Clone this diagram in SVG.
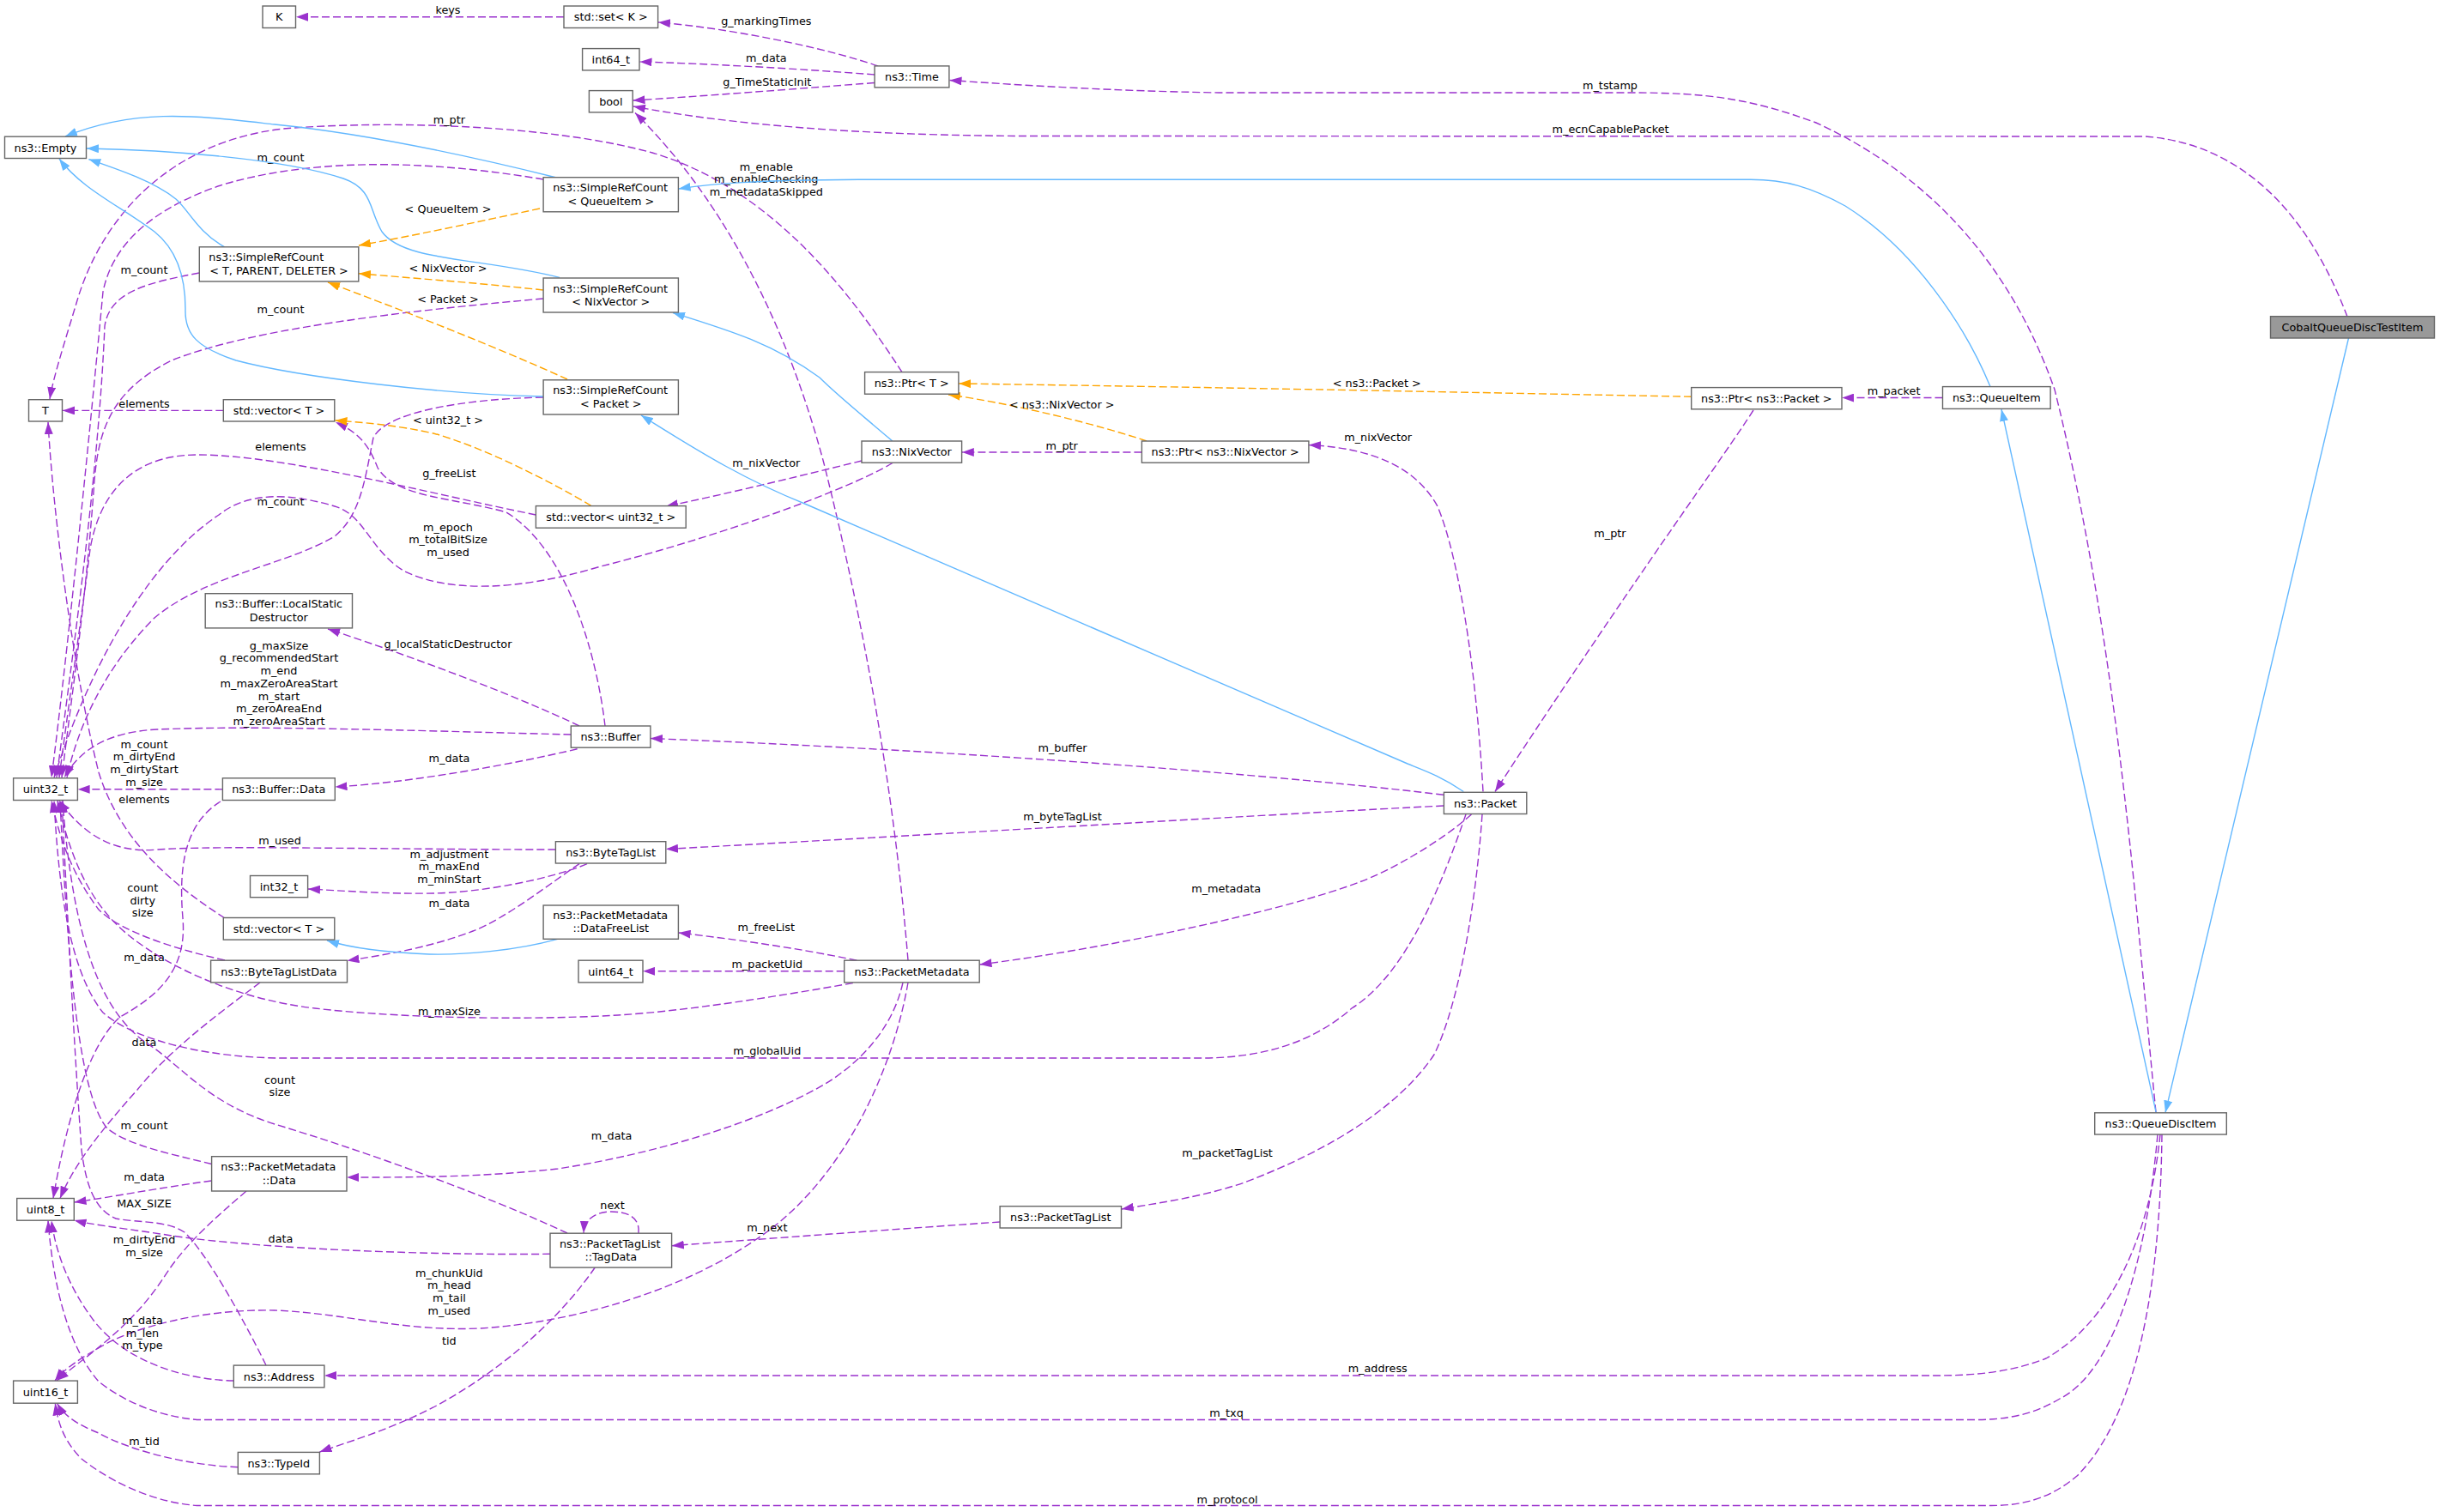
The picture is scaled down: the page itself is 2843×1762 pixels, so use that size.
<svg xmlns="http://www.w3.org/2000/svg" width="2843" height="1762" viewBox="0 0 2843 1762">
<style>
text{font-family:"DejaVu Sans","Liberation Sans",sans-serif;font-size:12.8px;fill:#000}
.n rect{fill:#fff;stroke:#666;stroke-width:1.4}
.root rect{fill:#999;stroke:#666;stroke-width:1.4}
.n text,.root text{text-anchor:middle}
.n text.l{text-anchor:start}
#edges path{fill:none;stroke-width:1.4}
#edges .p{stroke:#9a32cd;stroke-dasharray:9,4;marker-end:url(#ap)}
#edges .b{stroke:#63b8ff;marker-end:url(#ab)}
#edges .o{stroke:#ffa500;stroke-dasharray:9,4;marker-end:url(#ao)}
#edges text{text-anchor:middle}
</style>
<defs>
<marker id="ap" viewBox="0 0 14 10" markerWidth="14" markerHeight="10" refX="14" refY="5" orient="auto" markerUnits="userSpaceOnUse"><path d="M0,0 L14,5 L0,10 z" fill="#9a32cd"/></marker>
<marker id="ab" viewBox="0 0 14 10" markerWidth="14" markerHeight="10" refX="14" refY="5" orient="auto" markerUnits="userSpaceOnUse"><path d="M0,0 L14,5 L0,10 z" fill="#63b8ff"/></marker>
<marker id="ao" viewBox="0 0 14 10" markerWidth="14" markerHeight="10" refX="14" refY="5" orient="auto" markerUnits="userSpaceOnUse"><path d="M0,0 L14,5 L0,10 z" fill="#ffa500"/></marker>
</defs>
<rect width="2843" height="1762" fill="#fff"/>
<g id="edges">
<path class="p" d="M657,19.7 L345,19.7"/>
<text x="522" y="16">keys</text>
<path class="p" d="M1023,77 C960,55 850,33 767,26"/>
<text x="892.8" y="29">g_markingTimes</text>
<path class="p" d="M1019,87 C930,80 820,74 745.5,72"/>
<text x="892.8" y="72.2">m_data</text>
<path class="p" d="M1019,96.5 C920,104 820,112 737.5,117"/>
<text x="893.8" y="100.2">g_TimeStaticInit</text>
<path class="p" d="M2512,1296 C2490,1080 2470,760 2394,454 C2340,300 2240,200 2116,143 C2040,115 1990,108 1900,108 L1420,108 C1300,106 1200,100 1106.5,93.5"/>
<text x="1876" y="104">m_tstamp</text>
<path class="p" d="M2735,369 C2705,290 2640,170 2500,159 L1200,158.5 C1000,158 850,145 738,124"/>
<text x="1876.6" y="155">m_ecnCapablePacket</text>
<path class="p" d="M1051,433.6 C990,340 900,220 760,178 C640,145 450,140 330,150 C200,165 120,250 90,350 C75,400 62,440 58,465"/>
<text x="523.4" y="144.2">m_ptr</text>
<path class="p" d="M1058,1119 C1040,900 1000,700 960,540 C920,390 850,240 740,131.5"/>
<text x="892.8" y="198.9">m_enable<tspan x="892.8" dy="14.4">m_enableChecking</tspan><tspan x="892.8" dy="14.4">m_metadataSkipped</tspan></text>
<path class="p" d="M633,209 C520,190 380,180 260,215 C170,245 130,290 120,340 C105,500 80,750 60,906"/>
<text x="327" y="188.2">m_count</text>
<path class="p" d="M232.3,318 C170,330 128,340 122,380 C115,550 85,760 66,906"/>
<text x="168" y="319.1">m_count</text>
<path class="p" d="M633,348 C500,360 300,380 200,420 C130,455 115,500 110,560 C100,700 85,800 72,906"/>
<text x="327" y="365">m_count</text>
<path class="p" d="M633,463 C540,465 450,480 435,510 C425,560 420,600 390,625 C330,660 240,670 180,720 C120,780 90,850 78,906"/>
<text x="327" y="589.1">m_count</text>
<path class="p" d="M260.3,478.4 L73,478.4"/>
<text x="168" y="475.2">elements</text>
<path class="p" d="M624.4,600 C500,575 330,530 230,530 C150,530 115,580 105,640 C95,720 80,820 69,906"/>
<text x="327" y="525">elements</text>
<path class="p" d="M1004,537 C930,555 850,575 776,590"/>
<text x="892.8" y="544.1">m_nixVector</text>
<path class="p" d="M1040,539.5 C980,575 820,630 700,660 C600,690 520,690 470,665 C430,640 425,600 390,590 C340,575 290,572 255,600 C180,650 110,760 63,906"/>
<text x="522" y="618.9">m_epoch<tspan x="522" dy="14.4">m_totalBitSize</tspan><tspan x="522" dy="14.4">m_used</tspan></text>
<path class="p" d="M675,846 C600,810 480,765 382,733"/>
<text x="522" y="754.8">g_localStaticDestructor</text>
<path class="p" d="M665.3,856 C500,852 300,845 183,850 C130,853 95,870 75,906"/>
<text x="325" y="756.7">g_maxSize<tspan x="325" dy="14.7">g_recommendedStart</tspan><tspan x="325" dy="14.7">m_end</tspan><tspan x="325" dy="14.7">m_maxZeroAreaStart</tspan><tspan x="325" dy="14.7">m_start</tspan><tspan x="325" dy="14.7">m_zeroAreaEnd</tspan><tspan x="325" dy="14.7">m_zeroAreaStart</tspan></text>
<path class="p" d="M705,846 C695,760 660,640 590,597 C530,580 460,580 440,545 C430,520 420,505 391,492"/>
<text x="523.4" y="555.6">g_freeList</text>
<path class="p" d="M672.6,872.8 C600,890 480,912 390.5,917"/>
<text x="523.4" y="888">m_data</text>
<path class="p" d="M259.4,919.8 L90.6,919.8"/>
<text x="168" y="871.5">m_count<tspan x="168" dy="14.8">m_dirtyEnd</tspan><tspan x="168" dy="14.8">m_dirtyStart</tspan><tspan x="168" dy="14.8">m_size</tspan></text>
<path class="p" d="M262,1070 C200,1030 140,980 115,900 C85,780 62,600 56,492"/>
<text x="168" y="935.8">elements</text>
<path class="p" d="M647.4,990 C450,990 250,985 183.7,990 C130,995 95,970 69,933"/>
<text x="326" y="983.7">m_used</text>
<path class="p" d="M684,1006.7 C640,1025 560,1040 505,1041 C450,1042 400,1038 359,1036"/>
<text x="523.4" y="999.7">m_adjustment<tspan x="523.4" dy="14.6">m_maxEnd</tspan><tspan x="523.4" dy="14.6">m_minStart</tspan></text>
<path class="p" d="M675,1006.7 C640,1030 590,1070 551,1085 C500,1105 440,1114 404.5,1119.5"/>
<text x="523.4" y="1057.1">m_data</text>
<path class="p" d="M262,1119 C200,1105 140,1085 115,1060 C85,1020 70,980 60,933"/>
<text x="166.2" y="1039.1">count<tspan x="166.2" dy="14.4">dirty</tspan><tspan x="166.2" dy="14.4">size</tspan></text>
<path class="p" d="M257,934 C215,960 208,1010 213,1070 C218,1130 185,1160 140,1185 C100,1220 75,1320 62,1396.5"/>
<text x="168" y="1120.3">m_data</text>
<path class="p" d="M303,1145 C270,1170 200,1220 160,1270 C115,1320 85,1360 70,1396.5"/>
<text x="168" y="1219">data</text>
<path class="p" d="M998.4,1119.2 C930,1105 860,1095 790.6,1087"/>
<text x="892.8" y="1084.7">m_freeList</text>
<path class="p" d="M983.7,1131.8 L749.2,1131.8"/>
<text x="893.8" y="1127.9">m_packetUid</text>
<path class="p" d="M993.8,1145.6 C900,1162 800,1178 720,1183 C600,1190 450,1185 367,1175 C280,1165 200,1130 150,1090 C100,1050 80,990 67,933"/>
<text x="523.4" y="1182.9">m_maxSize</text>
<path class="p" d="M1708,949 C1670,1060 1630,1140 1575,1175 C1530,1215 1470,1233 1400,1233 L330,1233 C250,1233 160,1215 120,1180 C80,1130 68,1030 63,933"/>
<text x="893.8" y="1229">m_globalUid</text>
<path class="p" d="M1727,949 C1720,1050 1700,1170 1671,1229 C1630,1290 1550,1340 1450,1378 C1400,1395 1350,1402 1306.8,1409"/>
<text x="1430" y="1347.5">m_packetTagList</text>
<path class="p" d="M1714.5,949 C1680,980 1620,1015 1583.7,1028 C1500,1060 1300,1104 1141.5,1124"/>
<text x="1428.7" y="1039.8">m_metadata</text>
<path class="p" d="M1682,926.3 C1550,910 1200,878 758,860.5"/>
<text x="1238" y="876.1">m_buffer</text>
<path class="p" d="M1682,939 C1500,948 1100,972 776,989.5"/>
<text x="1238" y="955.7">m_byteTagList</text>
<path class="p" d="M1728,922.5 C1720,780 1700,650 1675,590 C1650,545 1600,522 1525,518.6"/>
<text x="1605.7" y="513.5">m_nixVector</text>
<path class="p" d="M2043,478 C2010,530 1900,680 1742,922.5"/>
<text x="1876" y="625.5">m_ptr</text>
<path class="p" d="M2263.5,463.5 L2146.3,463.5"/>
<text x="2206.6" y="460.2">m_packet</text>
<path class="p" d="M1330.4,527 L1120.8,527"/>
<text x="1237.2" y="523.8">m_ptr</text>
<path class="p" d="M1052,1145 C1040,1200 1000,1240 960,1264 C880,1310 760,1345 650,1362 C560,1372 480,1372 404.2,1372"/>
<text x="712.6" y="1328">m_data</text>
<path class="p" d="M1058,1145 C1040,1250 980,1380 880,1445 C800,1500 680,1540 560,1548 C470,1552 400,1530 320,1527 C230,1525 150,1550 120,1568 C95,1582 75,1595 64,1609"/>
<text x="523.4" y="1487.7">m_chunkUid<tspan x="523.4" dy="14.7">m_head</tspan><tspan x="523.4" dy="14.7">m_tail</tspan><tspan x="523.4" dy="14.7">m_used</tspan></text>
<path class="p" d="M1165,1424 C1050,1432 900,1443 782.8,1451.7"/>
<text x="893.8" y="1435.1">m_next</text>
<path class="p" d="M744,1437 C746,1418 730,1412 712,1412 C695,1412 681,1420 680,1437"/>
<text x="713.5" y="1409">next</text>
<path class="p" d="M661,1437 C560,1390 420,1340 320,1310 C240,1285 210,1240 170,1215 C120,1180 85,1100 73,933"/>
<text x="326" y="1263.2">count<tspan x="326" dy="14.2">size</tspan></text>
<path class="p" d="M641,1461.3 C500,1463 300,1455 200,1440 C150,1432 110,1428 86.5,1422"/>
<text x="327" y="1447.5">data</text>
<path class="p" d="M693.3,1477 C650,1540 580,1600 505,1640 C450,1668 400,1682 372.5,1692"/>
<text x="523.4" y="1566.8">tid</text>
<path class="p" d="M246.6,1356.5 C200,1345 150,1335 125,1315 C95,1280 80,1150 70,933"/>
<text x="168" y="1316.1">m_count</text>
<path class="p" d="M246.6,1376 C180,1385 130,1395 86.5,1401"/>
<text x="168" y="1376">m_data</text>
<path class="p" d="M287,1388 C250,1420 215,1450 190,1490 C150,1550 100,1580 66,1609"/>
<text x="168" y="1449.3">m_dirtyEnd<tspan x="168" dy="14.6">m_size</tspan></text>
<path class="p" d="M272.3,1609 C220,1608 150,1590 110,1540 C80,1500 65,1460 60,1422.5"/>
<text x="166" y="1543">m_data<tspan x="166" dy="14.6">m_len</tspan><tspan x="166" dy="14.6">m_type</tspan></text>
<path class="p" d="M310,1591 C280,1530 240,1460 215,1436 C195,1422 160,1425 135,1420 C110,1410 100,1380 95,1340 C85,1200 78,1050 72,933"/>
<text x="168" y="1407.1">MAX_SIZE</text>
<path class="p" d="M277.3,1709.7 C220,1708 150,1690 115,1670 C90,1660 75,1650 66.6,1635.5"/>
<text x="168" y="1683.5">m_tid</text>
<path class="p" d="M2517,1322 C2505,1440 2460,1540 2384,1583 C2340,1600 2300,1603 2250,1603 L378,1603"/>
<text x="1605.2" y="1598.7">m_address</text>
<path class="p" d="M2514,1322 C2500,1480 2460,1600 2400,1630 C2370,1648 2340,1654.5 2300,1654.5 L229.6,1654.5 C180,1650 140,1630 115,1610 C80,1570 62,1500 56,1422.5"/>
<text x="1429" y="1651.3">m_txq</text>
<path class="p" d="M2519,1322 C2517,1500 2490,1650 2420,1720 C2390,1745 2360,1754.5 2320,1754.5 L229.6,1754.5 C170,1750 120,1720 95,1700 C75,1680 68,1660 64.3,1635.5"/>
<text x="1430" y="1751.5">m_protocol</text>
<path class="b" d="M647.4,206.7 C540,180 420,155 320,145 C230,135 160,125 76,159"/>
<path class="b" d="M652,323.4 C560,300 470,305 445,270 C430,245 435,220 400,208 C330,185 200,175 101,173"/>
<path class="b" d="M261.7,287.8 C230,270 220,245 205,232 C180,212 140,198 103.3,185.6"/>
<path class="b" d="M633,462 C520,460 350,440 275,420 C230,405 215,390 216,360 C216,320 205,290 180,270 C140,240 95,220 69,185"/>
<path class="b" d="M2319,450.6 C2290,380 2230,290 2150,240 C2110,218 2080,209.3 2040,209.3 L1000,209.3 C880,210 830,214 790.6,220"/>
<path class="b" d="M1039.8,514 C1000,480 975,460 955,440 C900,400 850,385 784,364.5"/>
<path class="b" d="M1705.3,922.5 C1680,905 1660,898 1640,890 L940,588 C870,560 820,530 747,484"/>
<path class="b" d="M2736.5,394 L2523,1296.5"/>
<path class="b" d="M2512.3,1296.8 L2332,477"/>
<path class="b" d="M649.7,1094.3 C600,1108 540,1113 500,1112 C450,1110 410,1105 381,1096"/>
<path class="o" d="M629,243 C550,260 480,275 418,286"/>
<text x="522" y="247.9">&lt; QueueItem &gt;</text>
<path class="o" d="M633,338 C560,330 480,324 418,318.8"/>
<text x="522" y="317.2">&lt; NixVector &gt;</text>
<path class="o" d="M661,442 C580,405 470,362 382,329"/>
<text x="522" y="352.8">&lt; Packet &gt;</text>
<path class="o" d="M688.7,589.4 C640,560 560,520 505,505 C460,495 420,492 390.5,490"/>
<text x="522" y="494.4">&lt; uint32_t &gt;</text>
<path class="o" d="M1970.7,462.3 C1750,458 1400,451 1117.2,447"/>
<text x="1604.3" y="451.1">&lt; ns3::Packet &gt;</text>
<path class="o" d="M1336,514 C1280,495 1180,470 1105,460"/>
<text x="1237.2" y="476">&lt; ns3::NixVector &gt;</text>
</g>
<g id="n_K" class="n"><rect x="306" y="7" width="38.5" height="25.5"/><text x="325.2" y="24.4">K</text></g>
<g id="n_set" class="n"><rect x="657" y="7" width="109.6" height="25.5"/><text x="711.8" y="24.4">std::set&lt; K &gt;</text></g>
<g id="n_int64" class="n"><rect x="678.6" y="56.6" width="66.4" height="25.3"/><text x="711.8" y="73.9">int64_t</text></g>
<g id="n_bool" class="n"><rect x="686.4" y="105.6" width="50.8" height="25.3"/><text x="711.8" y="122.9">bool</text></g>
<g id="n_time" class="n"><rect x="1019.1" y="76.9" width="86.8" height="25"/><text x="1062.5" y="94">ns3::Time</text></g>
<g id="n_empty" class="n"><rect x="5.5" y="159.2" width="95" height="25.3"/><text x="53" y="176.5">ns3::Empty</text></g>
<g id="n_src_qi" class="n"><rect x="633.1" y="206.7" width="157.3" height="40.1"/><text class="l" x="644.2" y="223.2">ns3::SimpleRefCount</text><text x="711.8" y="238.5">&lt; QueueItem &gt;</text></g>
<g id="n_src_tpd" class="n"><rect x="232.3" y="287.8" width="185.5" height="40.2"/><text class="l" x="243.3" y="304.3">ns3::SimpleRefCount</text><text x="325" y="319.6">&lt; T, PARENT, DELETER &gt;</text></g>
<g id="n_src_nv" class="n"><rect x="633.1" y="324" width="157.3" height="40"/><text class="l" x="644.2" y="340.5">ns3::SimpleRefCount</text><text x="711.8" y="355.8">&lt; NixVector &gt;</text></g>
<g id="n_src_pkt" class="n"><rect x="633.1" y="442.8" width="157.3" height="40.2"/><text class="l" x="644.2" y="459.3">ns3::SimpleRefCount</text><text x="711.8" y="474.6">&lt; Packet &gt;</text></g>
<g id="n_T" class="n"><rect x="33.5" y="465.7" width="39" height="25.3"/><text x="53" y="483">T</text></g>
<g id="n_vecT1" class="n"><rect x="260.3" y="465.7" width="129.5" height="25.3"/><text x="325" y="483">std::vector&lt; T &gt;</text></g>
<g id="n_ptrT" class="n"><rect x="1007.6" y="433.6" width="109.3" height="25.6"/><text x="1062.2" y="451">ns3::Ptr&lt; T &gt;</text></g>
<g id="n_nixvec" class="n"><rect x="1004" y="514" width="116.6" height="25.2"/><text x="1062.3" y="531.2">ns3::NixVector</text></g>
<g id="n_ptrnv" class="n"><rect x="1330.4" y="514" width="194.5" height="25.2"/><text x="1427.6" y="531.2">ns3::Ptr&lt; ns3::NixVector &gt;</text></g>
<g id="n_ptrpkt" class="n"><rect x="1970.7" y="451.6" width="175.3" height="25.2"/><text x="2058.3" y="468.8">ns3::Ptr&lt; ns3::Packet &gt;</text></g>
<g id="n_queueitem" class="n"><rect x="2263.5" y="450.6" width="125.6" height="25.8"/><text x="2326.3" y="468.1">ns3::QueueItem</text></g>
<g id="n_cobalt" class="root"><rect x="2645.5" y="368.7" width="191" height="25.3"/><text x="2741" y="386">CobaltQueueDiscTestItem</text></g>
<g id="n_vecu32" class="n"><rect x="624.4" y="589.6" width="174.8" height="25.6"/><text x="711.8" y="607">std::vector&lt; uint32_t &gt;</text></g>
<g id="n_lsd" class="n"><rect x="239.2" y="691.7" width="171.3" height="40.2"/><text x="324.8" y="708.2">ns3::Buffer::LocalStatic</text><text x="324.8" y="723.5">Destructor</text></g>
<g id="n_buffer" class="n"><rect x="665.3" y="846" width="92.6" height="25.2"/><text x="711.6" y="863.2">ns3::Buffer</text></g>
<g id="n_uint32" class="n"><rect x="15.6" y="906.8" width="74.8" height="25.7"/><text x="53" y="924.2">uint32_t</text></g>
<g id="n_bufdata" class="n"><rect x="259.4" y="906.8" width="130.9" height="25.7"/><text x="324.8" y="924.2">ns3::Buffer::Data</text></g>
<g id="n_btl" class="n"><rect x="647.4" y="980.7" width="128.4" height="25.3"/><text x="711.6" y="998">ns3::ByteTagList</text></g>
<g id="n_int32" class="n"><rect x="291.5" y="1020.5" width="67.1" height="25.2"/><text x="325" y="1037.7">int32_t</text></g>
<g id="n_vecT2" class="n"><rect x="260.3" y="1069.5" width="129.5" height="25.6"/><text x="325" y="1086.9">std::vector&lt; T &gt;</text></g>
<g id="n_dfl" class="n"><rect x="633.1" y="1055" width="157.3" height="39.3"/><text class="l" x="644.2" y="1071.3">ns3::PacketMetadata</text><text x="711.8" y="1086.4">::DataFreeList</text></g>
<g id="n_btld" class="n"><rect x="245.6" y="1119.2" width="158.9" height="25.7"/><text x="325" y="1136.6">ns3::ByteTagListData</text></g>
<g id="n_uint64" class="n"><rect x="674" y="1119.2" width="75" height="25.7"/><text x="711.5" y="1136.6">uint64_t</text></g>
<g id="n_pm" class="n"><rect x="983.7" y="1119.2" width="157.5" height="25.7"/><text x="1062.5" y="1136.6">ns3::PacketMetadata</text></g>
<g id="n_packet" class="n"><rect x="1682.4" y="923.3" width="96.4" height="25.2"/><text x="1730.6" y="940.5">ns3::Packet</text></g>
<g id="n_pmdata" class="n"><rect x="246.6" y="1347.7" width="157.4" height="40.3"/><text class="l" x="257.3" y="1364.2">ns3::PacketMetadata</text><text x="325.3" y="1379.5">::Data</text></g>
<g id="n_uint8" class="n"><rect x="19.7" y="1396.5" width="66.6" height="25.7"/><text x="53" y="1413.9">uint8_t</text></g>
<g id="n_tagdata" class="n"><rect x="641" y="1437.2" width="141.6" height="39.9"/><text class="l" x="652" y="1453.7">ns3::PacketTagList</text><text x="711.8" y="1469">::TagData</text></g>
<g id="n_ptl" class="n"><rect x="1165.1" y="1405.7" width="141.4" height="25.3"/><text x="1235.8" y="1423">ns3::PacketTagList</text></g>
<g id="n_address" class="n"><rect x="272.3" y="1591.1" width="105.6" height="25.7"/><text x="325.1" y="1608.5">ns3::Address</text></g>
<g id="n_uint16" class="n"><rect x="15.6" y="1609.1" width="74.8" height="26.1"/><text x="53" y="1626.7">uint16_t</text></g>
<g id="n_typeid" class="n"><rect x="277.3" y="1692.4" width="95.1" height="25.4"/><text x="324.8" y="1709.7">ns3::TypeId</text></g>
<g id="n_qdi" class="n"><rect x="2440.7" y="1296.8" width="153.6" height="25.2"/><text x="2517.5" y="1314">ns3::QueueDiscItem</text></g>
</svg>
